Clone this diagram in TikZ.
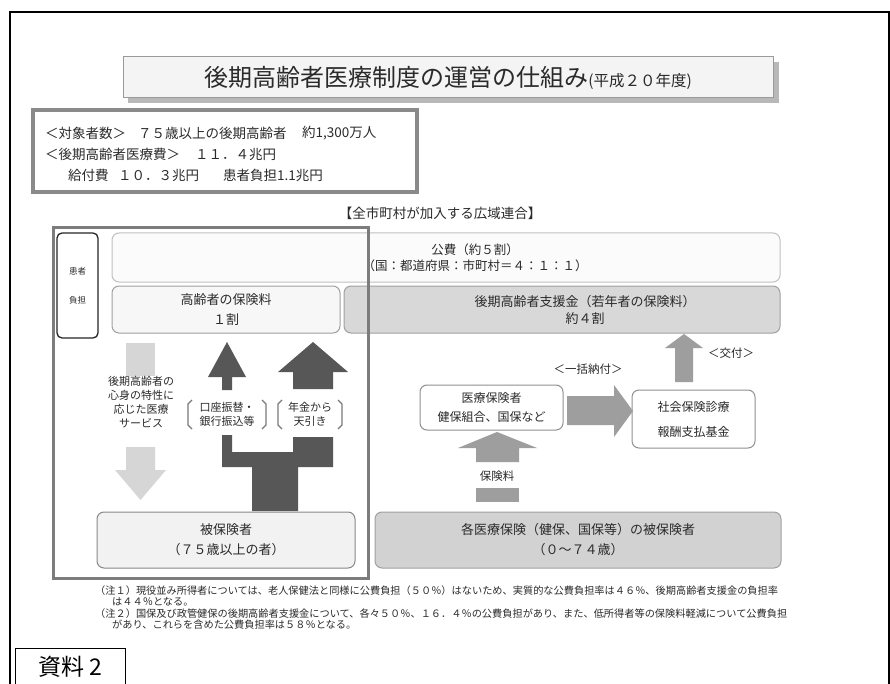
\documentclass[tikz,border=0pt]{standalone}
\usepackage{fontspec}
\setmainfont{Noto Sans CJK JP}
\usetikzlibrary{calc}
\definecolor{textc}{HTML}{2A2A2A}
\definecolor{shadowc}{HTML}{B8B8B8}
\definecolor{titlef}{HTML}{F4F4F4}
\definecolor{titleb}{HTML}{9A9A9A}
\definecolor{infob}{HTML}{8A8A8A}
\definecolor{kouhif}{HTML}{FBFBFB}
\definecolor{kouhib}{HTML}{C0C0C0}
\definecolor{boxb}{HTML}{A0A0A0}
\definecolor{shienf}{HTML}{D8D8D8}
\definecolor{lightarrow}{HTML}{D6D6D6}
\definecolor{darkarrow}{HTML}{575757}
\definecolor{grayarrow}{HTML}{9E9E9E}
\definecolor{framec}{HTML}{7C7C7C}
\newcommand\fsz[2]{\fontsize{#1}{#2}\selectfont}
\begin{document}
\begin{tikzpicture}[x=1pt,y=-1pt,
  txt/.style={text=textc, inner sep=0pt, align=center},
  rbox/.style={rectangle, rounded corners=7pt, inner sep=0pt, align=center, text=textc, line width=1pt},
  plainbox/.style={rectangle, inner sep=0pt}]
\useasboundingbox (0,0) rectangle (890,684);
\fill[white] (0,0) rectangle (890,684);
% outer frame
\draw[black, line width=1.2pt] (10,684) -- (10,12) -- (889,12) -- (889,684);

% title
\fill[shadowc] (128,62) rectangle (779,103);
\node[plainbox, draw=titleb, fill=titlef, line width=1pt, minimum width=650pt, minimum height=41pt, text=textc] (title) at (448,77.5)
  {\fsz{24}{28}後期高齢者医療制度の運営の仕組み{\fsz{15.5}{18}(平成２０年度)}};

% info box
\node[plainbox, draw=infob, line width=3.5pt, minimum width=384pt, minimum height=82pt] (info) at (225,151) {};
\node[txt, anchor=west, font=\fsz{13.5}{16}] (i1a) at (45,133) {＜対象者数＞};
\node[txt, anchor=west, font=\fsz{13.5}{16}] (i1b) at (138,133) {７５歳以上の後期高齢者};
\node[txt, anchor=west, font=\fsz{13.5}{16}] (i1c) at (302,133) {約1,300万人};
\node[txt, anchor=west, font=\fsz{13.5}{16}] (i2a) at (45,154) {＜後期高齢者医療費＞};
\node[txt, anchor=west, font=\fsz{13.5}{16}] (i2b) at (195,154) {１１．４兆円};
\node[txt, anchor=west, font=\fsz{13.5}{16}] (i3a) at (68,175) {給付費};
\node[txt, anchor=west, font=\fsz{13.5}{16}] (i3b) at (118,175) {１０．３兆円};
\node[txt, anchor=west, font=\fsz{13.5}{16}] (i3c) at (223,175) {患者負担1.1兆円};

% union label
\node[txt, font=\fsz{13.5}{16}] (union) at (440,213) {【全市町村が加入する広域連合】};

% public funds
\node[rbox, draw=kouhib, fill=kouhif, minimum width=668pt, minimum height=49pt] (kouhi) at (446,257.5) {};
\node[txt, font=\fsz{12.5}{16.5}] (kouhit) at (475,258) {公費（約５割）\\（国：都道府県：市町村＝４：１：１）};

% patient share
\node[rbox, rounded corners=5pt, draw=black!85, line width=1.3pt, minimum width=41pt, minimum height=105pt, font=\fsz{8.5}{29}] (kanja) at (77.5,285.5) {患者\\負担};

% elderly premium
\node[rbox, draw=boxb, fill=white!97!black, minimum width=228pt, minimum height=47pt, font=\fsz{13}{20}] (hoken1) at (226,309.5) {高齢者の保険料\\１割};

% support
\node[rbox, draw=boxb, fill=shienf, minimum width=436pt, minimum height=47pt] (shien) at (562,309.5) {};
\node[txt, font=\fsz{13}{17}] (shient) at (585,310) {後期高齢者支援金（若年者の保険料）\\約４割};

% light arrow (medical service)
\fill[lightarrow] (126,343) rectangle (155,376);
\fill[lightarrow] (126,447) -- (155,447) -- (155,470) -- (166,470) -- (140.5,500) -- (115,470) -- (126,470) -- cycle;
\node[txt, font=\fsz{11}{14}] (svc) at (141,402) {後期高齢者の\\心身の特性に\\応じた医療\\サービス};

% dark arrows
\fill[darkarrow] (222,390) -- (222,377) -- (208,377) -- (227,342) -- (246,377) -- (232,377) -- (232,390) -- cycle;
\fill[darkarrow] (293,389) -- (293,372) -- (278,372) -- (313,342) -- (348,372) -- (333,372) -- (333,389) -- cycle;
\fill[darkarrow] (222,435) -- (232,435) -- (232,452) -- (293,452) -- (293,437) -- (333,437) -- (333,467) -- (298,467) -- (298,511) -- (252,511) -- (252,467) -- (222,467) -- cycle;

% bracket texts
\node[txt, font=\fsz{11}{14}] (koza) at (227,414) {口座振替・\\銀行振込等};
\node[txt, font=\fsz{11}{14}] (nenkin) at (310,414) {年金から\\天引き};
\draw[darkarrow!80, line width=1.3pt] (192,400) -- (188,404) -- (188,425) -- (192,429);
\draw[darkarrow!80, line width=1.3pt] (262,400) -- (266,404) -- (266,425) -- (262,429);
\draw[darkarrow!80, line width=1.3pt] (282,400) -- (278,404) -- (278,425) -- (282,429);
\draw[darkarrow!80, line width=1.3pt] (338,400) -- (342,404) -- (342,425) -- (338,429);

% right side
\node[rbox, draw=boxb!90!black, fill=white, minimum width=143pt, minimum height=45pt, font=\fsz{12}{19}] (iryo) at (491.5,407.5) {医療保険者\\健保組合、国保など};
\node[rbox, draw=boxb!90!black, fill=white, minimum width=123pt, minimum height=58pt, font=\fsz{12}{25}] (kikin) at (693.5,419) {社会保険診療\\報酬支払基金};
\fill[grayarrow] (675,382) -- (675,348) -- (665,348) -- (684,334) -- (703,348) -- (693,348) -- (693,382) -- cycle;
\node[txt, font=\fsz{11.5}{14}] (koufu) at (731,353) {＜交付＞};
\fill[grayarrow] (567,396) -- (614,396) -- (614,385) -- (633,411) -- (614,437) -- (614,425) -- (567,425) -- cycle;
\node[txt, font=\fsz{11.5}{14}] (ikkatsu) at (588,369) {＜一括納付＞};
\fill[grayarrow] (476,462) -- (476,448) -- (458,448) -- (497,432) -- (537,448) -- (519,448) -- (519,462) -- cycle;
\node[txt, font=\fsz{11.5}{14}] (hokenryo) at (497,476) {保険料};
\fill[grayarrow] (476,488) rectangle (519,502);

% insured boxes
\node[rbox, draw=boxb!85!black, fill=white!95!black, minimum width=258pt, minimum height=56pt, font=\fsz{13}{20}] (hi75) at (226,540) {被保険者\\（７５歳以上の者）};
\node[rbox, draw=boxb, fill=shienf!97!black, minimum width=406pt, minimum height=56pt, font=\fsz{13}{20}] (hi074) at (578,540) {各医療保険（健保、国保等）の被保険者\\（０～７４歳）};

% regional frame
\node[plainbox, draw=framec, line width=3pt, minimum width=315pt, minimum height=350pt] (region) at (210.5,403) {};

% notes
\node[txt, anchor=west, font=\fsz{10.2}{12}] (n1a) at (95,591) {（注１）現役並み所得者については、老人保健法と同様に公費負担（５０％）はないため、実質的な公費負担率は４６％、後期高齢者支援金の負担率};
\node[txt, anchor=west, font=\fsz{10.2}{12}] (n1b) at (112,602) {は４４％となる。};
\node[txt, anchor=west, font=\fsz{10.2}{12}] (n2a) at (95,614) {（注２）国保及び政管健保の後期高齢者支援金について、各々５０％、１６．４％の公費負担があり、また、低所得者等の保険料軽減について公費負担};
\node[txt, anchor=west, font=\fsz{10.2}{12}] (n2b) at (112,625) {があり、これらを含めた公費負担率は５８％となる。};

% document label
\draw[black, line width=1pt] (15,690) -- (15,648) -- (125,648) -- (125,690);
\node[inner sep=0pt, font=\fsz{23}{26}] (shiryo) at (70,667) {資料 2};
\end{tikzpicture}
\end{document}
